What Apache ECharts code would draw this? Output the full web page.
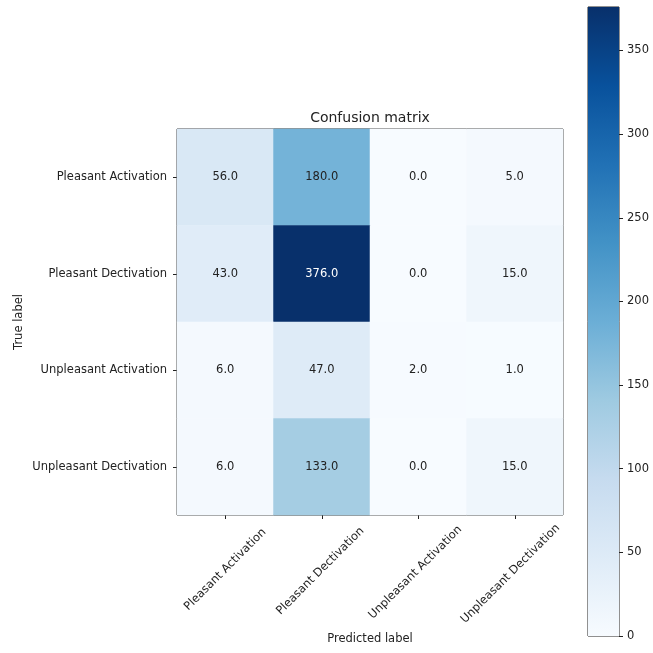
<!DOCTYPE html>
<html>
<head>
<meta charset="utf-8">
<script src="https://cdn.jsdelivr.net/npm/echarts@6/dist/echarts.min.js"></script>
<style>
  html, body { margin: 0; padding: 0; background: #fff; }
  #chart { width: 653px; height: 653px; }
</style>
</head>
<body>
<div id="chart"></div>
<script>
// categories (rows = true label, cols = predicted label)
var labels = ['Pleasant Activation', 'Pleasant Dectivation', 'Unpleasant Activation', 'Unpleasant Dectivation'];
var matrix = [
  [56, 180, 0, 5],
  [43, 376, 0, 15],
  [6, 47, 2, 1],
  [6, 133, 0, 15]
];
var colorbarTicks = [0, 50, 100, 150, 200, 250, 300, 350];
var blues = ['#f7fbff', '#deebf7', '#c6dbef', '#9ecae1', '#6baed6', '#4292c6', '#2171b5', '#08519c', '#08306b'];

var FONT = 'DejaVu Sans';
var FS = 11.5;
var TXT = '#222';
var LINE = '#222';

var maxVal = 0;
var cells = [];
matrix.forEach(function (row, i) {
  row.forEach(function (v, j) {
    cells.push([j, i, v]);
    if (v > maxVal) maxVal = v;
  });
});
var thresh = maxVal / 2;

// matplotlib centres rotated tick labels on the tick, so shift longer labels down
var ctx = document.createElement('canvas').getContext('2d');
ctx.font = FS + 'px "' + FONT + '"';
var widths = labels.map(function (s) { return ctx.measureText(s).width; });
var wMin = Math.min.apply(null, widths);
var xData = labels.map(function (s, k) {
  var p = (widths[k] - wMin) / 2;
  return {
    value: s,
    textStyle: { align: 'center', verticalAlign: 'middle', padding: [p, p, 0, 0] }
  };
});
var xMargin = 11 + (wMin + 13) * 0.3536;

var gradStops = blues.map(function (c, k) {
  return { offset: k / (blues.length - 1), color: c };
});

var chart = echarts.init(document.getElementById('chart'));
var option = {
  backgroundColor: '#fff',
  animation: false,
  textStyle: { fontFamily: FONT },
  title: {
    text: 'Confusion matrix',
    left: 370,
    top: 111,
    padding: 0,
    textAlign: 'center',
    textStyle: { fontFamily: FONT, fontSize: 14, fontWeight: 'normal', color: TXT }
  },
  grid: [
    { left: 177, top: 129, width: 386, height: 386, outerBoundsMode: 'none', show: true, borderColor: LINE, borderWidth: 1, backgroundColor: 'transparent' },
    { left: 588, top: 7, width: 31, height: 629, outerBoundsMode: 'none', show: true, borderColor: LINE, borderWidth: 1, backgroundColor: 'transparent' }
  ],
  visualMap: {
    show: false,
    type: 'continuous',
    seriesIndex: 0,
    dimension: 2,
    min: 0,
    max: maxVal,
    inRange: { color: blues }
  },
  xAxis: [
    {
      type: 'category',
      gridIndex: 0,
      data: xData,
      name: 'Predicted label',
      nameLocation: 'middle',
      nameGap: 116,
      nameTextStyle: { fontFamily: FONT, fontSize: FS, color: TXT },
      axisLine: { show: false },
      axisTick: { show: true, alignWithLabel: true, length: 4, lineStyle: { color: LINE } },
      axisLabel: {
        interval: 0,
        rotate: 45,
        align: 'center',
        verticalAlign: 'middle',
        margin: xMargin,
        fontFamily: FONT,
        fontSize: FS,
        color: TXT
      },
      splitLine: { show: false }
    },
    {
      type: 'category',
      gridIndex: 1,
      data: [''],
      show: false
    }
  ],
  yAxis: [
    {
      type: 'category',
      gridIndex: 0,
      inverse: true,
      data: labels,
      name: 'True label',
      nameLocation: 'middle',
      nameGap: 152,
      nameRotate: 90,
      nameMoveOverlap: false,
      nameTextStyle: { fontFamily: FONT, fontSize: FS, color: TXT },
      axisLine: { show: false },
      axisTick: { show: true, alignWithLabel: true, length: 4, lineStyle: { color: LINE } },
      axisLabel: { interval: 0, margin: 10, fontFamily: FONT, fontSize: FS, color: TXT },
      splitLine: { show: false }
    },
    {
      type: 'value',
      gridIndex: 1,
      position: 'right',
      min: 0,
      max: maxVal,
      axisLine: { show: false },
      axisTick: { show: true, length: 4, lineStyle: { color: LINE }, customValues: colorbarTicks },
      axisLabel: { margin: 8, fontFamily: FONT, fontSize: FS, color: TXT, customValues: colorbarTicks },
      splitLine: { show: false }
    }
  ],
  series: [
    {
      type: 'heatmap',
      xAxisIndex: 0,
      yAxisIndex: 0,
      data: cells,
      label: {
        show: true,
        fontFamily: FONT,
        fontSize: FS,
        formatter: function (p) {
          var v = p.value[2];
          return (v > thresh ? '{w|' : '{d|') + v.toFixed(1) + '}';
        },
        rich: {
          w: { color: '#fff', fontFamily: FONT, fontSize: FS },
          d: { color: TXT, fontFamily: FONT, fontSize: FS }
        }
      },
      itemStyle: { borderWidth: 0 },
      emphasis: { disabled: true }
    },
    {
      type: 'bar',
      xAxisIndex: 1,
      yAxisIndex: 1,
      data: [maxVal],
      barWidth: '100%',
      silent: true,
      itemStyle: {
        color: { type: 'linear', x: 0, y: 1, x2: 0, y2: 0, colorStops: gradStops }
      }
    }
  ]
};
chart.setOption(option);
</script>
</body>
</html>
